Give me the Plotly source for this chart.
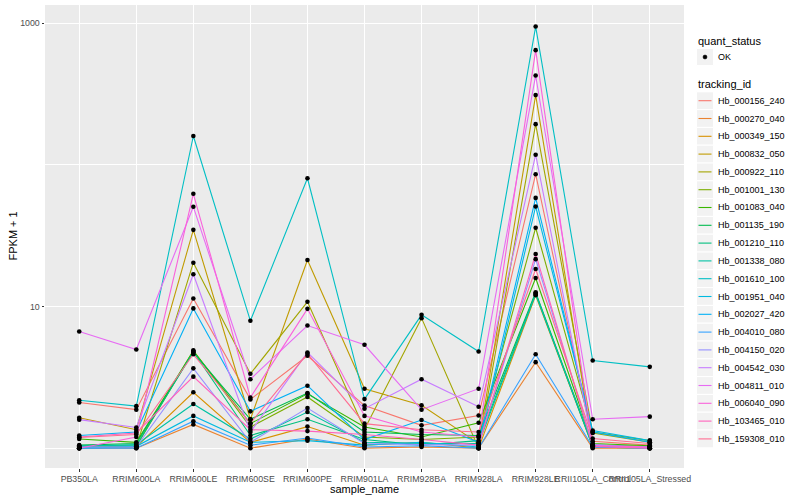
import plotly.graph_objects as go

categories = ["PB350LA", "RRIM600LA", "RRIM600LE", "RRIM600SE", "RRIM600PE", "RRIM901LA",
              "RRIM928BA", "RRIM928LA", "RRIM928LE", "RRII105LA_Control", "RRII105LA_Stressed"]

tracking_ids = ["Hb_000156_240", "Hb_000270_040", "Hb_000349_150", "Hb_000832_050", "Hb_000922_110",
                "Hb_001001_130", "Hb_001083_040", "Hb_001135_190", "Hb_001210_110", "Hb_001338_080",
                "Hb_001610_100", "Hb_001951_040", "Hb_002027_420", "Hb_004010_080", "Hb_004150_020",
                "Hb_004542_030", "Hb_004811_010", "Hb_006040_090", "Hb_103465_010", "Hb_159308_010"]

colors = ["#F8766D", "#EA8331", "#D89000", "#C09B00", "#A3A500", "#7CAE00", "#39B600", "#00BB4E",
          "#00BF7D", "#00C1A3", "#00BFC4", "#00BAE0", "#00B0F6", "#35A2FF", "#9590FF", "#C77CFF",
          "#E76BF3", "#FA62DB", "#FF62BC", "#FF6C91"]

# FPKM + 1 per tracking id, one value per sample
v_000156_240 = [2.10, 1.87, 11.4, 2.21, 4.49, 2.00, 1.45, 1.70, 86.0, 1.12, 1.05]
v_000270_040 = [1.00, 1.00, 1.47, 1.00, 1.16, 1.00, 1.02, 1.00, 4.05, 1.00, 1.00]
v_000349_150 = [1.02, 1.02, 2.48, 1.10, 1.42, 1.05, 1.10, 1.00, 12.0, 1.03, 1.02]
v_000832_050 = [1.64, 1.35, 34.8, 1.60, 21.3, 2.63, 2.01, 1.08, 311.0, 1.05, 1.03]
v_000922_110 = [1.00, 1.02, 20.4, 3.35, 10.8, 1.36, 8.28, 1.00, 194.0, 1.28, 1.10]
v_001001_130 = [1.01, 1.03, 4.90, 1.41, 2.30, 1.20, 1.15, 1.20, 36.0, 1.30, 1.13]
v_001083_040 = [1.16, 1.10, 4.85, 1.49, 2.42, 1.41, 1.20, 1.51, 15.9, 1.08, 1.04]
v_001135_190 = [1.05, 1.08, 4.75, 1.60, 2.45, 1.30, 1.25, 1.23, 12.6, 1.05, 1.02]
v_001210_110 = [1.04, 1.04, 4.80, 1.23, 1.60, 1.15, 1.05, 1.13, 12.4, 1.02, 1.00]
v_001338_080 = [1.03, 1.06, 2.05, 1.16, 1.80, 1.10, 1.08, 1.08, 12.2, 1.04, 1.02]
v_001610_100 = [2.18, 1.98, 160.0, 7.93, 80.5, 2.22, 8.74, 4.81, 948.0, 4.16, 3.75]
v_001951_040 = [1.00, 1.03, 1.69, 1.10, 1.13, 1.05, 1.10, 1.02, 50.8, 1.33, 1.13]
v_002027_420 = [1.23, 1.30, 9.70, 1.82, 2.76, 1.15, 1.58, 1.10, 58.5, 1.30, 1.10]
v_004010_080 = [1.00, 1.00, 1.55, 1.05, 1.18, 1.02, 1.04, 1.00, 4.60, 1.02, 1.00]
v_004150_020 = [1.02, 1.02, 3.66, 1.10, 1.92, 1.08, 1.06, 1.05, 21.6, 1.06, 1.00]
v_004542_030 = [1.59, 1.40, 16.9, 1.30, 4.74, 1.90, 3.07, 1.96, 118.0, 1.05, 1.02]
v_004811_010 = [6.67, 4.97, 50.6, 3.07, 7.34, 5.37, 1.87, 2.63, 428.0, 1.60, 1.67]
v_006040_090 = [1.00, 1.20, 62.5, 2.28, 9.63, 1.69, 1.30, 1.20, 646.0, 1.04, 1.02]
v_103465_010 = [1.20, 1.28, 3.20, 1.35, 1.32, 1.25, 1.15, 1.05, 23.5, 1.03, 1.00]
v_159308_010 = [1.19, 1.25, 4.60, 1.50, 4.65, 1.49, 1.35, 1.30, 18.4, 1.17, 1.08]

series_values = [v_000156_240, v_000270_040, v_000349_150, v_000832_050, v_000922_110,
                 v_001001_130, v_001083_040, v_001135_190, v_001210_110, v_001338_080,
                 v_001610_100, v_001951_040, v_002027_420, v_004010_080, v_004150_020,
                 v_004542_030, v_004811_010, v_006040_090, v_103465_010, v_159308_010]

FONT = "Liberation Sans, Arial, sans-serif"
W, H = 800, 500
PL, PR, PT, PB = 45, 684, 5, 468

fig = go.Figure()
for tid, col, vals in zip(tracking_ids, colors, series_values):
    fig.add_trace(go.Scatter(x=categories, y=vals, mode="lines", name=tid,
                             line=dict(color=col, width=1.1), showlegend=False,
                             hoverinfo="skip"))

all_x, all_y = [], []
for vals in series_values:
    all_x += categories
    all_y += vals
fig.add_trace(go.Scatter(x=all_x, y=all_y, mode="markers", name="OK",
                         marker=dict(color="black", size=4.6), showlegend=False))


def px2x(px):
    return (px - PL) / (PR - PL)


def py2y(py):
    return (PB - py) / (PB - PT)


shapes = []
annotations = []

annotations.append(dict(text="sample_name", x=px2x(364), y=py2y(489), xref="paper", yref="paper",
                        showarrow=False, font=dict(size=11, color="black", family=FONT),
                        xanchor="center", yanchor="middle"))
annotations.append(dict(text="FPKM + 1", x=px2x(12), y=py2y(236.5), xref="paper", yref="paper",
                        showarrow=False, textangle=-90, font=dict(size=11, color="black", family=FONT),
                        xanchor="center", yanchor="middle"))

# legend: quant_status
annotations.append(dict(text="quant_status", x=px2x(696), y=py2y(41), xref="paper", yref="paper",
                        showarrow=False, font=dict(size=11, color="black", family=FONT),
                        xanchor="left", yanchor="middle"))
kx0, kx1 = 696.5, 713.5
cy = 57
shapes.append(dict(type="rect", xref="paper", yref="paper", x0=px2x(kx0), x1=px2x(kx1),
                   y0=py2y(cy + 8.6), y1=py2y(cy - 8.6), fillcolor="#F2F2F2",
                   line=dict(color="white", width=1), layer="above"))
shapes.append(dict(type="circle", xref="paper", yref="paper", x0=px2x(703), x1=px2x(707),
                   y0=py2y(cy + 2), y1=py2y(cy - 2), fillcolor="black",
                   line=dict(color="black", width=0.5), layer="above"))
annotations.append(dict(text="OK", x=px2x(716), y=py2y(cy), xref="paper", yref="paper",
                        showarrow=False, font=dict(size=9, color="black", family=FONT),
                        xanchor="left", yanchor="middle"))

# legend: tracking_id
annotations.append(dict(text="tracking_id", x=px2x(696), y=py2y(84), xref="paper", yref="paper",
                        showarrow=False, font=dict(size=11, color="black", family=FONT),
                        xanchor="left", yanchor="middle"))
for i, (tid, col) in enumerate(zip(tracking_ids, colors)):
    cy = 100.7 + 17.8 * i
    shapes.append(dict(type="rect", xref="paper", yref="paper", x0=px2x(kx0), x1=px2x(kx1),
                       y0=py2y(cy + 8.9), y1=py2y(cy - 8.9), fillcolor="#F2F2F2",
                       line=dict(color="white", width=1), layer="above"))
    shapes.append(dict(type="line", xref="paper", yref="paper", x0=px2x(698.5), x1=px2x(711.5),
                       y0=py2y(cy), y1=py2y(cy), line=dict(color=col, width=1.1), layer="above"))
    annotations.append(dict(text=tid, x=px2x(716), y=py2y(cy), xref="paper", yref="paper",
                            showarrow=False, font=dict(size=9, color="black", family=FONT),
                            xanchor="left", yanchor="middle"))

fig.update_layout(
    width=W, height=H,
    margin=dict(l=PL, r=W - PR, t=PT, b=H - PB, pad=0),
    paper_bgcolor="white", plot_bgcolor="#EBEBEB",
    font=dict(family=FONT, size=9, color="#4D4D4D"),
    showlegend=False,
    shapes=shapes, annotations=annotations,
)
fig.update_xaxes(type="category", categoryorder="array", categoryarray=categories,
                 range=[-0.6, len(categories) - 1 + 0.6], automargin=False,
                 showgrid=True, gridcolor="white", gridwidth=1.1, zeroline=False, showline=False,
                 ticks="outside", ticklen=2.5, tickwidth=1, tickcolor="#333333",
                 tickfont=dict(size=8.8, color="#4D4D4D", family=FONT), tickangle=0)
fig.update_yaxes(type="log", range=[-0.140, 3.129], automargin=False,
                 tickvals=[10, 1000], ticktext=["10", "1000"],
                 showgrid=True, gridcolor="white", gridwidth=1.1, zeroline=False, showline=False,
                 ticks="outside", ticklen=2.5, tickwidth=1, tickcolor="#333333",
                 tickfont=dict(size=8.8, color="#4D4D4D", family=FONT),
                 minor=dict(tickvals=[1, 100], showgrid=True, gridcolor="white", gridwidth=0.55,
                            ticks=""))

fig.write_html("out.html", config={"displayModeBar": False},
               post_script="document.body.style.margin='0';document.body.style.overflow='hidden';")
